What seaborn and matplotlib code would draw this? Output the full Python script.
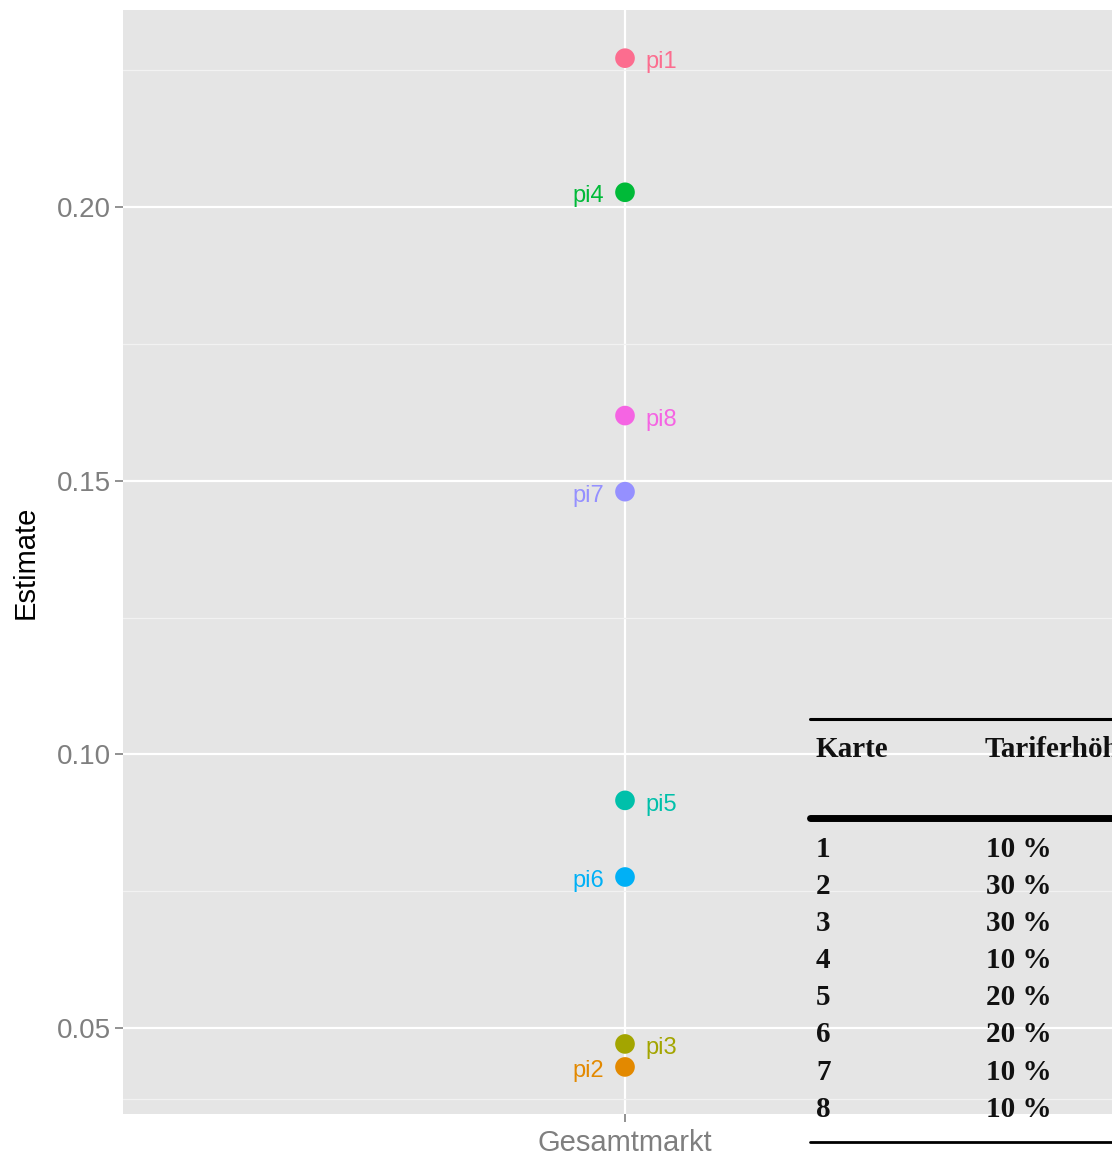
import matplotlib
matplotlib.use("Agg")
import matplotlib.pyplot as plt
import seaborn as sns
import pandas as pd
from matplotlib.lines import Line2D

# ---- data ----
params = ["pi1", "pi2", "pi3", "pi4", "pi5", "pi6", "pi7", "pi8"]
estimates = [0.2272, 0.0429, 0.0471, 0.2027, 0.0916, 0.0776, 0.1480, 0.1619]
group = ["Gesamtmarkt"] * 8
label_side = ["right", "left", "right", "left", "right", "left", "left", "right"]
colors = ["#FC6D8F", "#E38900", "#A3A500", "#00BA38", "#00C0AA", "#00B0F6", "#9590FF", "#F564E3"]
y_ticks = [0.05, 0.10, 0.15, 0.20]
minor_breaks = [0.037, 0.075, 0.125, 0.175, 0.225]
y_limits = (0.0343, 0.236)

table_header = ["Karte", "Tariferhöhung"]
table_karte = ["1", "2", "3", "4", "5", "6", "7", "8"]
table_tarif = ["10 %", "30 %", "30 %", "10 %", "20 %", "20 %", "10 %", "10 %"]

df = pd.DataFrame({"param": params, "Estimate": estimates, "group": group})

sns.set_style("darkgrid")
plt.rcParams["font.family"] = ["Liberation Sans", "DejaVu Sans"]

W, H = 1112, 1161
fig = plt.figure(figsize=(W / 100, H / 100), dpi=100)
ax = fig.add_axes([123 / W, (H - 1114) / H, (1127 - 123) / W, (1114 - 10) / H])
ax.set_facecolor("#E5E5E5")

sns.scatterplot(data=df, x="group", y="Estimate", hue="param", palette=colors,
                hue_order=params, s=200, linewidth=0, ax=ax, legend=False, zorder=3)

ax.set_ylim(*y_limits)
ax.set_xlim(-0.6, 0.6)
ax.set_yticks(y_ticks)
ax.set_yticklabels([f"{v:.2f}" for v in y_ticks])
ax.set_yticks(minor_breaks, minor=True)
ax.grid(which="major", color="white", linewidth=1.6)
ax.grid(which="minor", axis="y", color="#F2F2F2", linewidth=0.9)
for s in ax.spines.values():
    s.set_visible(False)
ax.tick_params(axis="both", which="major", left=True, bottom=True, length=6, width=1.2,
               color="#7F7F7F", labelcolor="#7F7F7F", direction="out")
ax.tick_params(axis="y", which="major", labelsize=20, pad=3)
ax.tick_params(axis="x", which="major", labelsize=21, pad=5)
ax.tick_params(axis="y", which="minor", length=0, left=False)
ax.set_xlabel("")
ax.set_ylabel("Estimate", fontsize=21, color="black", labelpad=12,
              family=["Liberation Sans Narrow", "Liberation Sans"])

for p, v, side, c in zip(params, estimates, label_side, colors):
    dx = 15 if side == "right" else -15
    ax.annotate(p, (0, v), xytext=(dx, -3), textcoords="offset points",
                ha="left" if side == "right" else "right", va="center",
                fontsize=17, color=c, zorder=4)

# ---- overlaid table ----
def fy(y):
    return 1 - y / H

def fx(x):
    return x / W

for y, lw in [(719, 2.2), (818, 5.0), (1142, 2.0)]:
    fig.add_artist(Line2D([fx(810), fx(1112)], [fy(y), fy(y)], color="black", lw=lw))

tfont = dict(family=["Liberation Serif", "DejaVu Serif"], fontsize=21, color="#111111",
             fontweight="bold", va="baseline", ha="left")
fig.text(fx(816), fy(757), table_header[0], **tfont)
fig.text(fx(985), fy(757), table_header[1], **tfont)
for i, (k, t) in enumerate(zip(table_karte, table_tarif)):
    yb = 857 + i * 37.1
    fig.text(fx(816), fy(yb), k, **tfont)
    fig.text(fx(986), fy(yb), t, **tfont)

fig.savefig("out.png", dpi=100)
